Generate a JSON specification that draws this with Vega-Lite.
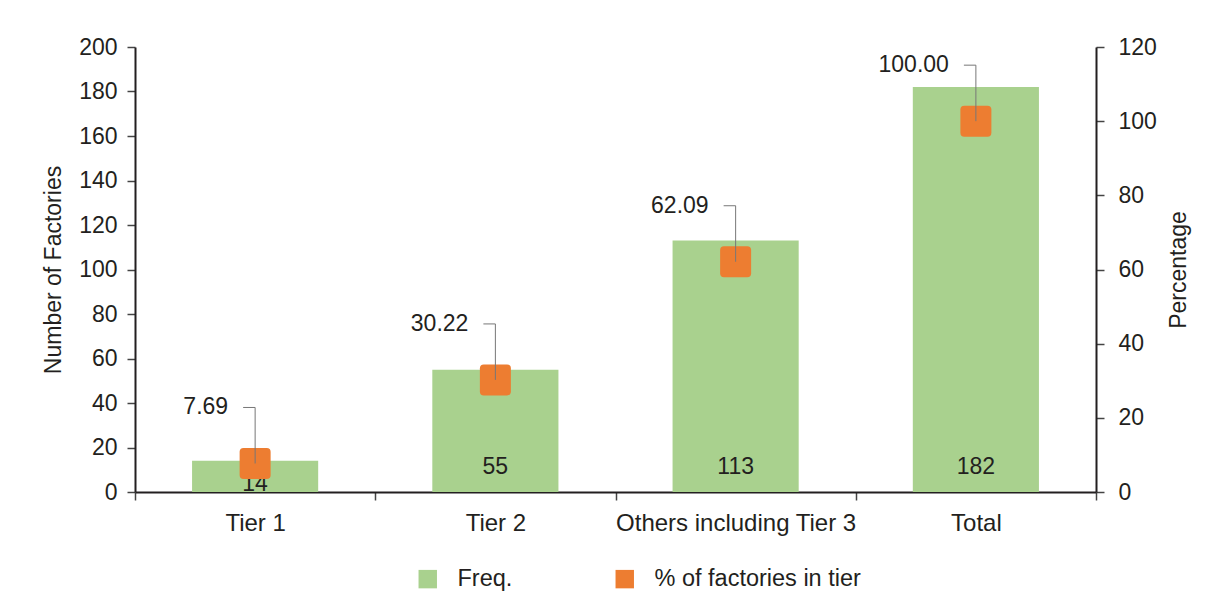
{
  "$schema": "https://vega.github.io/schema/vega-lite/v6.json",
  "width": 961,
  "height": 445,
  "autosize": {"type": "none"},
  "padding": {"left": 135, "top": 47, "right": 113, "bottom": 119},
  "background": "white",
  "config": {
    "view": {"stroke": null},
    "font": "Liberation Sans",
    "axis": {
      "labelFont": "Liberation Sans",
      "titleFont": "Liberation Sans",
      "labelFontSize": 23,
      "titleFontSize": 23,
      "titleFontWeight": "normal",
      "labelColor": "#231f20",
      "titleColor": "#231f20",
      "domainColor": "#231f20",
      "domainWidth": 2,
      "tickColor": "#444444",
      "tickWidth": 1.5,
      "tickSize": 8,
      "labelLimit": 0,
      "grid": false
    },
    "legend": {
      "labelFont": "Liberation Sans",
      "labelFontSize": 23.5,
      "labelColor": "#231f20",
      "labelLimit": 0
    }
  },
  "data": {
    "values": [
      {"cat": "Tier 1", "count": 14, "pct": 7.69},
      {"cat": "Tier 2", "count": 55, "pct": 30.22},
      {"cat": "Others including Tier 3", "count": 113, "pct": 62.09},
      {"cat": "Total", "count": 182, "pct": 100.0}
    ]
  },
  "encoding": {
    "x": {
      "field": "cat",
      "type": "nominal",
      "sort": null,
      "scale": {"paddingInner": 0, "paddingOuter": 0},
      "axis": {
        "title": null,
        "labelAngle": 0,
        "labelFontSize": 24,
        "tickBand": "extent",
        "labelPadding": 11,
        "domainWidth": 2
      }
    }
  },
  "layer": [
    {
      "layer": [
        {
          "mark": {"type": "bar", "width": {"band": 0.525}},
          "encoding": {
            "y": {
              "field": "count",
              "type": "quantitative",
              "scale": {"domain": [0, 200], "nice": false},
              "axis": {
                "title": "Number of Factories",
                "values": [0, 20, 40, 60, 80, 100, 120, 140, 160, 180, 200],
                "labelPadding": 10,
                "titlePadding": 13
              }
            },
            "color": {
              "datum": "Freq.",
              "type": "nominal",
              "scale": {
                "domain": ["Freq.", "% of factories in tier"],
                "range": ["#a9d18e", "#ed7d31"]
              },
              "legend": {
                "title": null,
                "orient": "none",
                "legendX": 281,
                "legendY": 520,
                "padding": 0,
                "direction": "horizontal",
                "symbolType": "square",
                "symbolSize": 340,
                "symbolStrokeWidth": 0,
                "labelOffset": 18,
                "columnPadding": 100
              }
            }
          }
        },
        {
          "transform": [{"filter": "datum.count >= 30"}],
          "mark": {"type": "text", "fontSize": 23, "color": "#231f20", "baseline": "middle", "dy": -25},
          "encoding": {
            "y": {"datum": 0, "type": "quantitative"},
            "text": {"field": "count", "type": "quantitative"}
          }
        },
        {
          "transform": [{"filter": "datum.count < 30"}],
          "mark": {"type": "text", "fontSize": 23, "color": "#231f20", "baseline": "middle", "dy": -8},
          "encoding": {
            "y": {"datum": 0, "type": "quantitative"},
            "text": {"field": "count", "type": "quantitative"}
          }
        }
      ]
    },
    {
      "layer": [
        {
          "mark": {
            "type": "point",
            "filled": true,
            "opacity": 1,
            "size": 961,
            "shape": "M -0.75 -1 L 0.75 -1 Q 1 -1 1 -0.75 L 1 0.75 Q 1 1 0.75 1 L -0.75 1 Q -1 1 -1 0.75 L -1 -0.75 Q -1 -1 -0.75 -1 Z"
          },
          "encoding": {
            "y": {
              "field": "pct",
              "type": "quantitative",
              "scale": {"domain": [0, 120], "nice": false},
              "axis": {
                "orient": "right",
                "title": "Percentage",
                "titleAngle": -90,
                "values": [0, 20, 40, 60, 80, 100, 120],
                "labelPadding": 14,
                "titlePadding": 34
              }
            },
            "color": {"datum": "% of factories in tier", "type": "nominal"}
          }
        },
        {
          "mark": {"type": "rule", "color": "#777777", "strokeWidth": 1, "y2Offset": -56},
          "encoding": {
            "y": {"field": "pct", "type": "quantitative"},
            "y2": {"field": "pct"}
          }
        },
        {
          "mark": {"type": "rule", "color": "#777777", "strokeWidth": 1, "yOffset": -56, "x2Offset": -12},
          "encoding": {
            "y": {"field": "pct", "type": "quantitative"},
            "x2": {"field": "cat"}
          }
        },
        {
          "mark": {"type": "text", "fontSize": 23, "color": "#231f20", "align": "right", "baseline": "middle", "dx": -27, "dy": -56},
          "encoding": {
            "y": {"field": "pct", "type": "quantitative"},
            "text": {"field": "pct", "type": "quantitative", "format": ".2f"}
          }
        }
      ]
    }
  ],
  "resolve": {"scale": {"y": "independent"}}
}
